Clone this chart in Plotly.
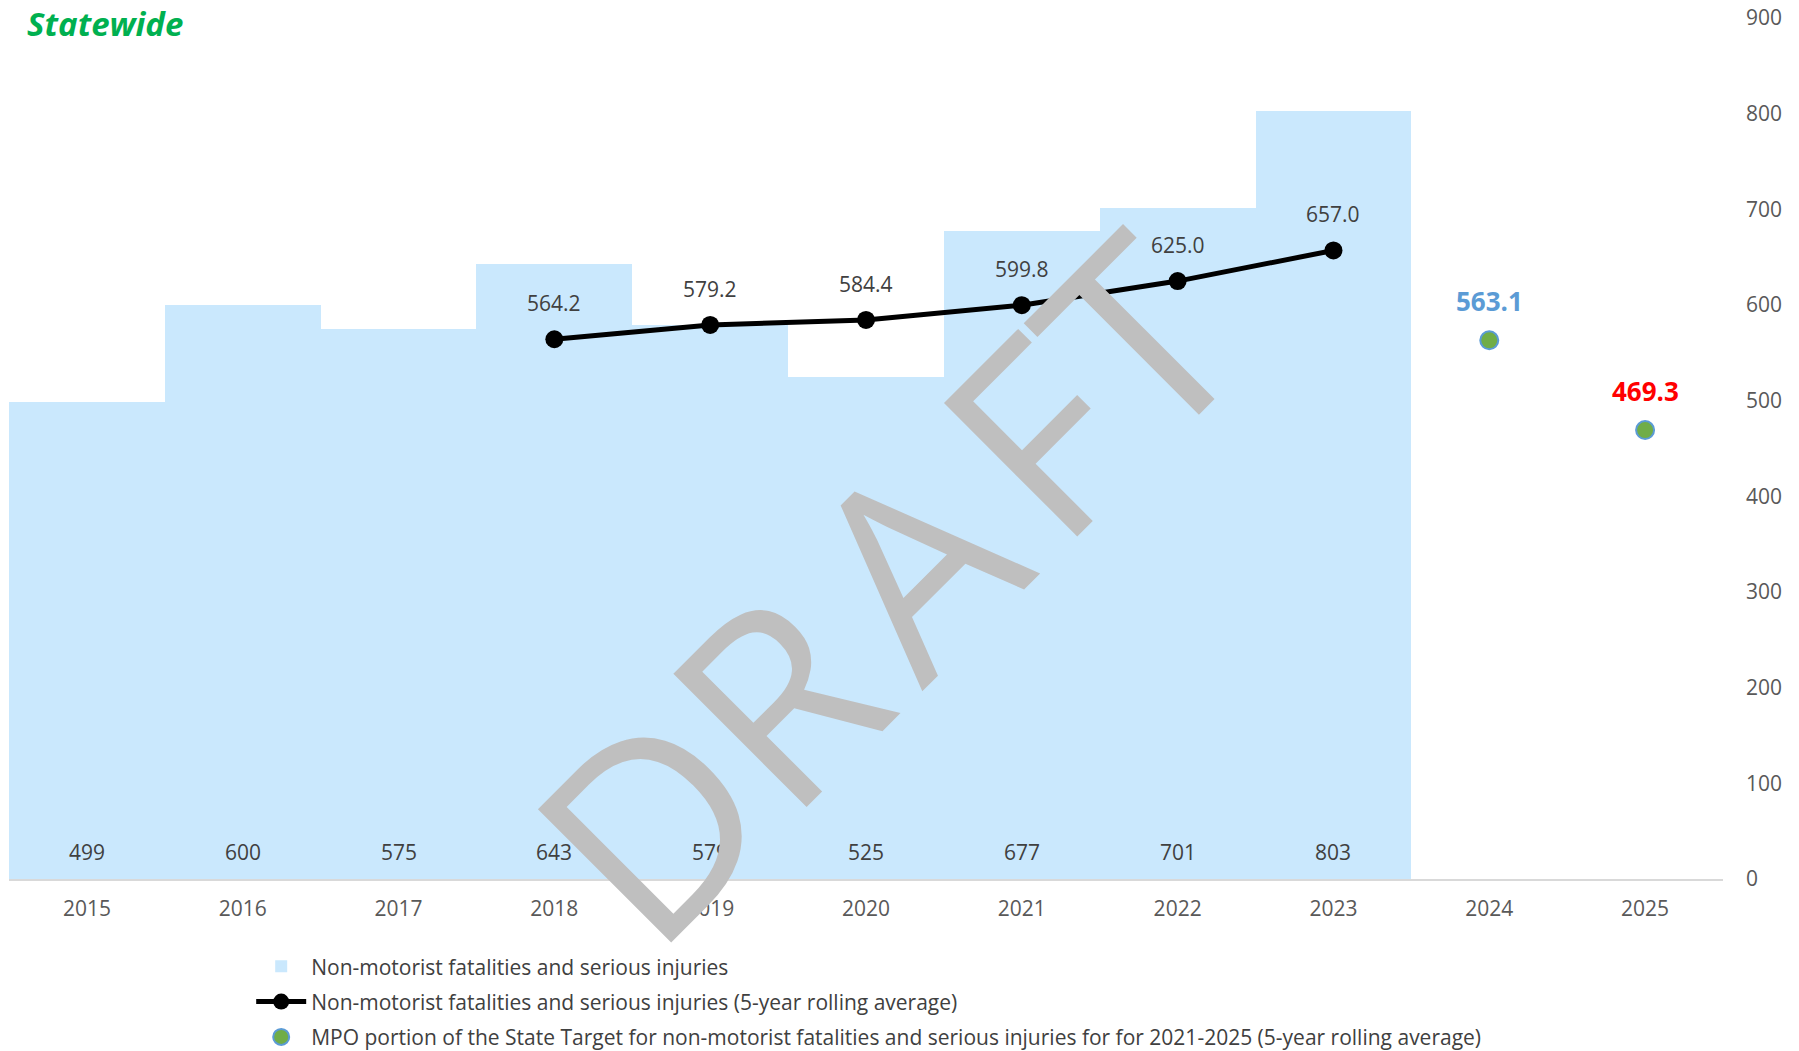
import plotly.graph_objects as go

years = ["2015", "2016", "2017", "2018", "2019", "2020", "2021", "2022", "2023", "2024", "2025"]
bar_years = years[:9]
bar_values = [499, 600, 575, 643, 579, 525, 677, 701, 803]
avg_years = years[3:9]
avg_values = [564.2, 579.2, 584.4, 599.8, 625.0, 657.0]
target_years = ["2024", "2025"]
target_values = [563.1, 469.3]
target_label_colors = ["#5B9BD5", "#FF0000"]
y_ticks = [0, 100, 200, 300, 400, 500, 600, 700, 800, 900]

FONT = "Open Sans"

fig = go.Figure()

fig.add_trace(go.Bar(
    x=bar_years, y=bar_values,
    name="Non-motorist fatalities and serious injuries",
    marker=dict(color="#CAE8FD", line=dict(width=0)),
    legendgroup="a",
))

fig.add_trace(go.Scatter(
    x=avg_years, y=avg_values, mode="lines+markers",
    name="Non-motorist fatalities and serious injuries (5-year rolling average)",
    line=dict(color="#000000", width=5),
    marker=dict(color="#000000", size=18),
    legendgroup="b",
))

fig.add_trace(go.Scatter(
    x=target_years, y=target_values, mode="markers",
    name="MPO portion of the State Target for non-motorist fatalities and serious injuries for for 2021-2025 (5-year rolling average)",
    marker=dict(color="#70AD47", size=18, line=dict(color="#5B9BD5", width=2)),
    legendgroup="c",
))

# bar value labels near the base of each bar
for x, v in zip(bar_years, bar_values):
    fig.add_annotation(xref="x", yref="y", x=years.index(x), y=0, text=str(v),
                       showarrow=False, yshift=27,
                       font=dict(family=FONT, size=21, color="#404040"))

for x, v in zip(avg_years, avg_values):
    fig.add_annotation(xref="x", yref="y", x=years.index(x), y=v, text=f"{v:.1f}",
                       showarrow=False, yshift=36,
                       font=dict(family=FONT, size=21, color="#404040"))

for x, v, c in zip(target_years, target_values, target_label_colors):
    fig.add_annotation(xref="x", yref="y", x=years.index(x), y=v, text=f"<b>{v:.1f}</b>",
                       showarrow=False, yshift=39,
                       font=dict(family=FONT, size=26, color=c))

hs = "\u200a"
fig.add_annotation(xref="paper", yref="paper", x=0.510, y=0.341,
                   text="DR" + hs + "A" + hs + "FT",
                   showarrow=False, textangle=-45,
                   font=dict(family=FONT, size=264, color="#BFBFBF"))

fig.add_annotation(xref="paper", yref="paper", x=0.0097, y=1 + 18 / 861, xanchor="left", yanchor="top",
                   text="<b><i>Statewide</i></b>", showarrow=False, borderpad=0,
                   font=dict(family=FONT, size=33, color="#00B050"))

fig.update_layout(
    width=1799, height=1051,
    margin=dict(l=9, r=76, t=18, b=172, autoexpand=False),
    paper_bgcolor="white", plot_bgcolor="white",
    bargap=0,
    font=dict(family=FONT, color="#595959"),
    showlegend=True,
    legend=dict(orientation="v", x=0.1413, y=-0.078, xanchor="left", yanchor="top",
                font=dict(family=FONT, size=21, color="#404040"),
                itemwidth=50,
                traceorder="grouped", tracegroupgap=5, bgcolor="rgba(0,0,0,0)"),
    xaxis=dict(type="category", categoryorder="array", categoryarray=years,
               range=[-0.5, 10.5], showgrid=False, showline=True, linecolor="#D9D9D9", linewidth=2,
               ticks="", ticklabelstandoff=10, automargin=False,
               tickfont=dict(family=FONT, size=21, color="#595959")),
    yaxis=dict(side="right", range=[0, 900], tickvals=y_ticks, showgrid=False,
               zeroline=False, showline=False, ticks="", ticklabelstandoff=22, automargin=False,
               tickfont=dict(family=FONT, size=21, color="#595959")),
)

fig.write_html("out.html", config={"displayModeBar": False},
               post_script="document.body.style.margin='0';")
